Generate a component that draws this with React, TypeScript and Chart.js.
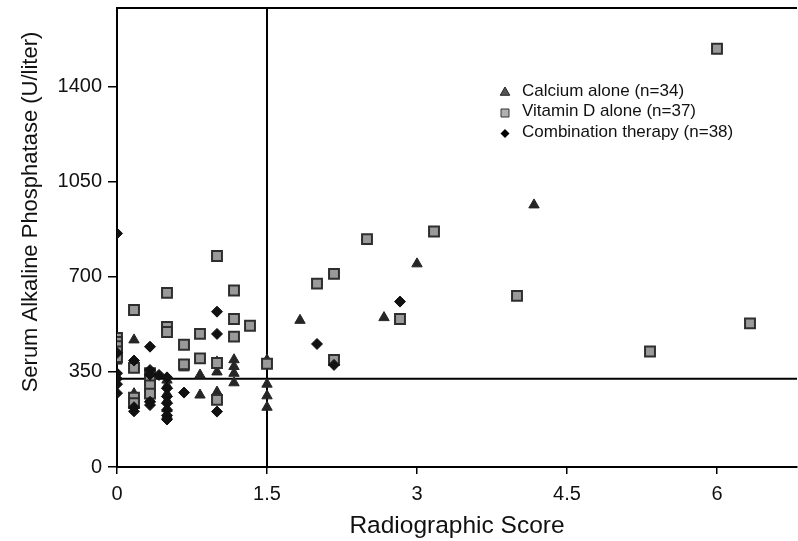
import { useEffect, useRef } from 'react';
import { Chart, registerables } from 'chart.js';

Chart.register(...registerables);

// Radiographic score (x) vs serum alkaline phosphatase U/liter (y)
const calciumPoints: [number, number][] = [
  [0, 390],
  [0.17, 468], [0.17, 372], [0.17, 270], [0.17, 250], [0.17, 230],
  [0.33, 330], [0.33, 300], [0.33, 280], [0.33, 250],
  [0.5, 320], [0.5, 300], [0.5, 270], [0.5, 245], [0.5, 215], [0.5, 190],
  [0.67, 365],
  [0.83, 339], [0.83, 265],
  [1, 387], [1, 350], [1, 276],
  [1.17, 395], [1.17, 370], [1.17, 345], [1.17, 310],
  [1.5, 394], [1.5, 305], [1.5, 262], [1.5, 220],
  [1.83, 540], [2.67, 550], [3, 748], [4.17, 965],
];

const vitaminDPoints: [number, number][] = [
  [0, 475], [0, 460], [0, 445], [0, 425], [0, 405],
  [0.17, 578], [0.17, 365], [0.17, 255], [0.17, 235],
  [0.33, 345], [0.33, 320], [0.33, 300], [0.33, 270],
  [0.5, 641], [0.5, 516], [0.5, 497],
  [0.67, 450], [0.67, 378],
  [0.83, 490], [0.83, 400],
  [1, 777], [1, 383], [1, 247],
  [1.17, 650], [1.17, 545], [1.17, 480],
  [1.33, 520],
  [1.5, 380],
  [2, 675], [2.17, 711], [2.17, 394], [2.5, 839], [2.83, 545],
  [3.17, 867], [4, 630], [5.33, 425], [6, 1540], [6.33, 529],
];

const comboPoints: [number, number][] = [
  [0, 860], [0, 420], [0, 345], [0, 325], [0, 305], [0, 272],
  [0.17, 392], [0.17, 220], [0.17, 205],
  [0.33, 443], [0.33, 357], [0.33, 340], [0.33, 240], [0.33, 228],
  [0.42, 339],
  [0.5, 330], [0.5, 290], [0.5, 260], [0.5, 235], [0.5, 210], [0.5, 190], [0.5, 175],
  [0.67, 274],
  [1, 572], [1, 490], [1, 204],
  [2, 453], [2.17, 376], [2.83, 609],
];

const xTicks = [0, 1.5, 3, 4.5, 6];
const yTicks = [0, 350, 700, 1050, 1400];
const xMax = 6.8;
const yMax = 1690;
const refScore = 1.5;
const refPhosphatase = 325;

const legendLabels = [
  'Calcium alone (n=34)',
  'Vitamin D alone (n=37)',
  'Combination therapy (n=38)',
];
const xTitle = 'Radiographic Score';
const yTitle = 'Serum Alkaline Phosphatase (U/liter)';

const FONT = '"Liberation Sans", Arial, Helvetica, sans-serif';

const TRI_COLOR = '#262626';
const SQ_FILL = '#9a9a9a';
const SQ_BORDER = '#2e2e2e';
const DIA_COLOR = '#111111';

function drawMarker(ctx: CanvasRenderingContext2D, kind: string, x: number, y: number) {
  ctx.save();
  ctx.beginPath();
  if (kind === 'triangle') {
    const r = 5.5;
    ctx.moveTo(x, y - r);
    ctx.lineTo(x + r * 0.866, y + r * 0.5);
    ctx.lineTo(x - r * 0.866, y + r * 0.5);
    ctx.closePath();
    ctx.fillStyle = '#555';
    ctx.fill();
    ctx.strokeStyle = '#222';
    ctx.lineWidth = 1;
    ctx.stroke();
  } else if (kind === 'square') {
    ctx.rect(x - 4, y - 4, 8, 8);
    ctx.fillStyle = '#b0b0b0';
    ctx.fill();
    ctx.strokeStyle = '#333';
    ctx.lineWidth = 1;
    ctx.stroke();
  } else {
    const r = 4.5;
    ctx.moveTo(x, y - r);
    ctx.lineTo(x + r, y);
    ctx.lineTo(x, y + r);
    ctx.lineTo(x - r, y);
    ctx.closePath();
    ctx.fillStyle = '#000';
    ctx.fill();
  }
  ctx.restore();
}

const overlayPlugin = {
  id: 'overlay',
  beforeDatasetsDraw(chart: any) {
    const { ctx, chartArea, scales } = chart;
    const xs = scales.x;
    const ys = scales.y;
    ctx.save();
    ctx.strokeStyle = '#000';
    ctx.lineWidth = 2;
    // top frame line
    ctx.beginPath();
    ctx.moveTo(chartArea.left, chartArea.top);
    ctx.lineTo(chartArea.right, chartArea.top);
    ctx.stroke();
    // vertical reference line
    const vx = xs.getPixelForValue(refScore);
    ctx.beginPath();
    ctx.moveTo(vx, chartArea.top);
    ctx.lineTo(vx, chartArea.bottom);
    ctx.stroke();
    // horizontal reference line
    const hy = ys.getPixelForValue(refPhosphatase);
    ctx.beginPath();
    ctx.moveTo(chartArea.left, hy);
    ctx.lineTo(chartArea.right, hy);
    ctx.stroke();
    ctx.restore();
  },
  afterDraw(chart: any) {
    const { ctx } = chart;
    const kinds = ['triangle', 'square', 'diamond'];
    ctx.save();
    // y-axis title
    ctx.save();
    ctx.translate(31, 212);
    ctx.rotate(-Math.PI / 2);
    ctx.font = `22px ${FONT}`;
    ctx.fillStyle = '#111';
    ctx.textAlign = 'center';
    ctx.textBaseline = 'middle';
    ctx.fillText(yTitle, 0, 0);
    ctx.restore();
    // legend
    ctx.font = `17px ${FONT}`;
    ctx.fillStyle = '#111';
    ctx.textBaseline = 'middle';
    ctx.textAlign = 'left';
    legendLabels.forEach((label, i) => {
      const y = 91 + i * 20.5;
      drawMarker(ctx, kinds[i], 505, y + 1.5);
      ctx.fillText(label, 522, y);
    });
    ctx.restore();
  },
};

export default function App() {
  const ref = useRef<HTMLCanvasElement>(null);

  useEffect(() => {
    document.body.style.margin = '0';
    const toXY = (arr: [number, number][]) => arr.map(([x, y]) => ({ x, y }));
    const chart = new Chart(ref.current as HTMLCanvasElement, {
      type: 'scatter',
      data: {
        datasets: [
          {
            label: legendLabels[0],
            data: toXY(calciumPoints),
            pointStyle: 'triangle',
            pointRadius: 6,
            backgroundColor: TRI_COLOR,
            borderColor: TRI_COLOR,
            borderWidth: 1,
            order: 3,
          },
          {
            label: legendLabels[1],
            data: toXY(vitaminDPoints),
            pointStyle: 'rect',
            pointRadius: 7,
            backgroundColor: SQ_FILL,
            borderColor: SQ_BORDER,
            borderWidth: 2,
            order: 2,
          },
          {
            label: legendLabels[2],
            data: toXY(comboPoints),
            pointStyle: 'rectRot',
            pointRadius: 5.5,
            backgroundColor: DIA_COLOR,
            borderColor: DIA_COLOR,
            borderWidth: 1,
            order: 1,
          },
        ],
      },
      options: {
        animation: false,
        responsive: false,
        maintainAspectRatio: false,
        layout: { autoPadding: false, padding: { top: 8, right: 1, left: 0, bottom: 0 } },
        plugins: {
          legend: { display: false },
          tooltip: { enabled: false },
        },
        scales: {
          x: {
            type: 'linear',
            min: 0,
            max: xMax,
            afterBuildTicks: (s: any) => {
              s.ticks = xTicks.map((v) => ({ value: v }));
            },
            afterFit: (s: any) => {
              s.height = 74;
              s.paddingLeft = 0;
              s.paddingRight = 0;
            },
            grid: {
              display: true,
              drawOnChartArea: false,
              drawTicks: true,
              tickLength: 7,
              color: '#000',
              lineWidth: 1.5,
            },
            border: { display: true, color: '#000', width: 2 },
            ticks: {
              color: '#111',
              font: { family: FONT, size: 20 },
              padding: 8,
              maxRotation: 0,
              autoSkip: false,
              callback: (v: any) => String(v),
            },
            title: {
              display: true,
              text: xTitle,
              color: '#111',
              font: { family: FONT, size: 24.5 },
              padding: { top: 0, bottom: 0 },
            },
          },
          y: {
            type: 'linear',
            min: 0,
            max: yMax,
            afterBuildTicks: (s: any) => {
              s.ticks = yTicks.map((v) => ({ value: v }));
            },
            afterFit: (s: any) => {
              s.width = 117;
              s.paddingTop = 0;
              s.paddingBottom = 0;
            },
            grid: {
              display: true,
              drawOnChartArea: false,
              drawTicks: true,
              tickLength: 9,
              color: '#000',
              lineWidth: 1.5,
            },
            border: { display: true, color: '#000', width: 2 },
            ticks: {
              color: '#111',
              font: { family: FONT, size: 20 },
              padding: 6,
              autoSkip: false,
              callback: (v: any) => String(v),
            },
            title: { display: false },
          },
        },
      },
      plugins: [overlayPlugin],
    });
    return () => chart.destroy();
  }, []);

  return (
    <div style={{ position: 'absolute', left: 0, top: 0, width: 798, height: 541, background: '#fff' }}>
      <canvas ref={ref} width={798} height={541} style={{ width: 798, height: 541 }} />
    </div>
  );
}
